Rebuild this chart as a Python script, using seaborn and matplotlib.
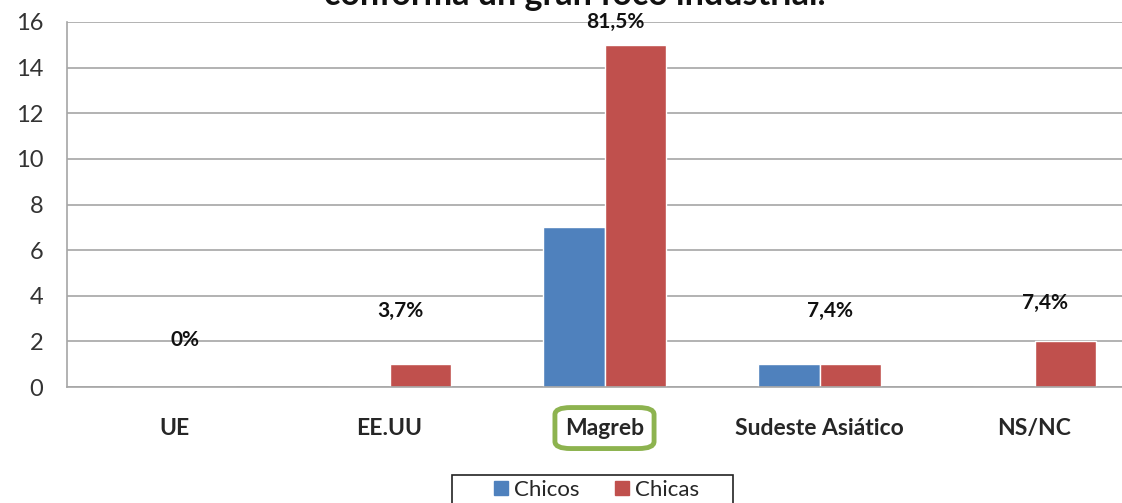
import matplotlib
matplotlib.use("Agg")
import matplotlib.pyplot as plt
from matplotlib.patches import FancyBboxPatch, Rectangle
import pandas as pd
import seaborn as sns

# datos
regiones = ["UE", "EE.UU", "Magreb", "Sudeste Asiático", "NS/NC"]
chicos = [0, 0, 7, 1, 0]
chicas = [0, 1, 15, 1, 2]
porcentajes = ["0%", "3,7%", "81,5%", "7,4%", "7,4%"]
pct_y = [2.05, 3.33, 16.0, 3.33, 3.68]

df = pd.DataFrame({
    "region": regiones * 2,
    "valor": chicos + chicas,
    "grupo": ["Chicos"] * 5 + ["Chicas"] * 5,
})

sns.set_style("white")
plt.rcParams["font.family"] = ["Lato", "DejaVu Sans"]

W, H = 1122, 503
fig = plt.figure(figsize=(W / 100, H / 100), dpi=100)
ax = fig.add_axes([67 / W, 1 - 387 / H, 1075 / W, 365 / H])

sns.barplot(data=df, x="region", y="valor", hue="grupo",
            palette={"Chicos": "#4f81bd", "Chicas": "#c0504d"},
            width=0.57, saturation=1, ax=ax, legend=False)

ax.set_ylim(0, 16)
ax.set_xlim(-0.5, 4.5)
ax.set_yticks(range(0, 17, 2))
ax.yaxis.grid(True, color="#a6a6a6", linewidth=1.2)
ax.set_axisbelow(True)
for s in ["top", "right"]:
    ax.spines[s].set_visible(False)
ax.spines["left"].set_color("#a6a6a6")
ax.spines["bottom"].set_color("#a6a6a6")
ax.spines["left"].set_linewidth(1.2)
ax.spines["bottom"].set_linewidth(1.2)
ax.set_xlabel("")
ax.set_ylabel("")

ax.tick_params(axis="y", length=7, color="#a6a6a6", labelsize=17, labelcolor="#333333", pad=10)
ax.tick_params(axis="x", which="major", length=0, labelsize=16.5, pad=22)
ax.set_xticks([i + 0.5 for i in range(4)], minor=True)
ax.tick_params(axis="x", which="minor", length=7, color="#a6a6a6")
for lab in ax.get_xticklabels():
    lab.set_fontweight("bold")

# porcentajes
for i, (t, y) in enumerate(zip(porcentajes, pct_y)):
    ax.text(i + 0.05, y, t, ha="center", va="center", fontsize=15, fontweight="bold", color="#111111")

# recuadro verde de Magreb
fig.canvas.draw()
lab = ax.get_xticklabels()[2]
bb = lab.get_window_extent().transformed(fig.transFigure.inverted())
pad_x, pad_y = 10 / W, 10 / H
box = FancyBboxPatch((bb.x0 - pad_x, bb.y0 - pad_y), bb.width + 2 * pad_x, bb.height + 2 * pad_y,
                     boxstyle="round,pad=0,rounding_size=0.014", transform=fig.transFigure,
                     fill=False, edgecolor="#8db34f", linewidth=3.5)
fig.add_artist(box)

# titulo cortado
fig.text(575 / W, 1 - 5 / H, "conforma un gran foco industrial.", ha="center", va="baseline",
         fontsize=24.5, fontweight="bold", color="#111111")

# leyenda
handles = [plt.Rectangle((0, 0), 1, 1, color="#4f81bd"), plt.Rectangle((0, 0), 1, 1, color="#c0504d")]
leg = fig.legend(handles, ["Chicos", "Chicas"], loc="upper center", bbox_to_anchor=(597 / W, 1 - 478 / H),
                 ncol=2, frameon=False, fontsize=16, handlelength=0.6, handleheight=0.6,
                 handletextpad=0.3, columnspacing=1.6, borderpad=0.1, borderaxespad=0)
fig.add_artist(Rectangle((452 / W, -0.05), 281 / W, 0.05 + 1 - 475 / H, transform=fig.transFigure,
                         fill=False, edgecolor="#222222", linewidth=1.2))

fig.savefig("out.png", dpi=100)
